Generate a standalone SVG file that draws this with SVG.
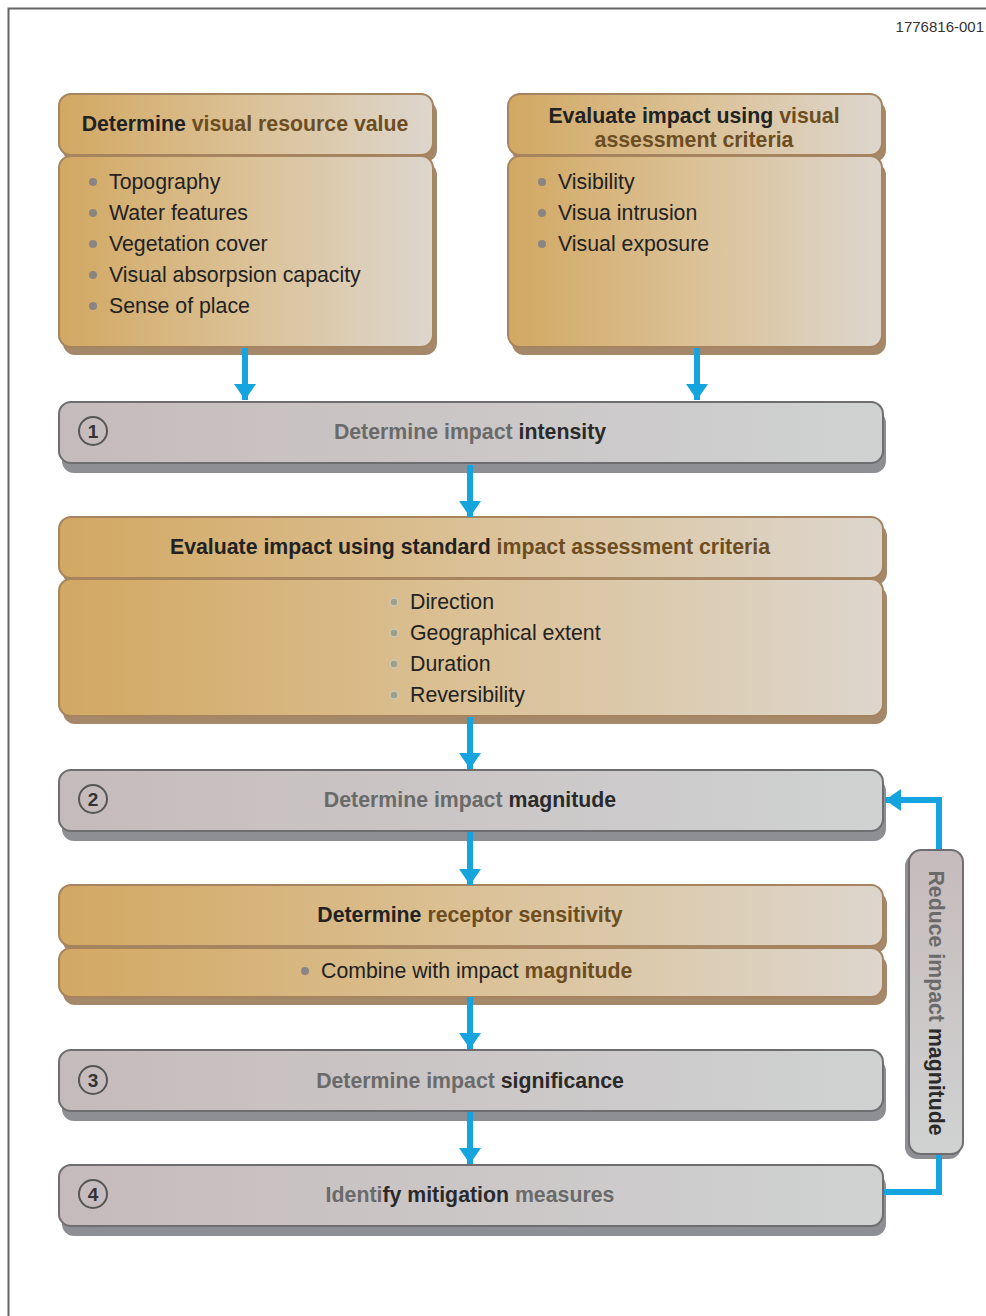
<svg xmlns="http://www.w3.org/2000/svg" width="986" height="1316" viewBox="0 0 986 1316">
<defs>
<linearGradient id="tan" x1="0" y1="0" x2="1" y2="0">
<stop offset="0" stop-color="#d2a862"/>
<stop offset="0.5" stop-color="#dbc196"/>
<stop offset="1" stop-color="#ddd6cd"/>
</linearGradient>
<linearGradient id="grey" x1="0" y1="0" x2="1" y2="0">
<stop offset="0" stop-color="#c6bbbc"/>
<stop offset="1" stop-color="#d0d2d2"/>
</linearGradient>
<linearGradient id="greyv" x1="0" y1="0" x2="0" y2="1">
<stop offset="0" stop-color="#c6bbbc"/>
<stop offset="1" stop-color="#d0d2d2"/>
</linearGradient>
<marker id="ah" viewBox="0 0 16 22" refX="16" refY="11" markerWidth="16" markerHeight="22" markerUnits="userSpaceOnUse" orient="auto">
<path d="M0,0 L16,11 L0,22 Z" fill="#16a4de"/>
</marker>
</defs>
<style>
.tb{fill:url(#tan);stroke:#a5845f;stroke-width:2}
.ts{fill:#a5876a}
.gb{fill:url(#grey);stroke:#6e6e70;stroke-width:2}
.gs{fill:#8e8f94}
.t{font-family:"Liberation Sans",Arial,sans-serif}
.h{font-size:21.3px;font-weight:bold;fill:#222}
.br{fill:#6c4d22}
.b{font-size:21.3px;fill:#222}
.bar{font-size:21.3px;font-weight:bold;fill:#6a6a6a}
.dk{fill:#2a2a2a}
.dot{fill:#8a8580}
.odot{fill:#9e9f88;stroke:#cdc8b8;stroke-width:1.5}
.num{fill:none;stroke:#555;stroke-width:2}
.numt{font-size:19px;font-weight:bold;fill:#333}
.conn{stroke:#16a4de;stroke-width:6;fill:none}
</style>
<rect width="986" height="1316" fill="#ffffff"/>
<path d="M8.5,1316 V8.5 H986" fill="none" stroke="#666" stroke-width="2"/>
<text class="t" x="984" y="32" font-size="15" fill="#333" text-anchor="end">1776816-001</text>

<g id="box-visual-resource">
<rect class="ts" x="63" y="101" width="374" height="61" rx="12"/>
<rect class="tb" x="59" y="94" width="374" height="61" rx="12"/>
<rect class="ts" x="63" y="163" width="374" height="192" rx="12"/>
<rect class="tb" x="59" y="156" width="374" height="191" rx="12"/>
<text class="t h" x="245" y="131" text-anchor="middle">Determine <tspan class="br">visual resource value</tspan></text>
<circle class="dot" cx="93" cy="182" r="4"/>
<circle class="dot" cx="93" cy="213" r="4"/>
<circle class="dot" cx="93" cy="244" r="4"/>
<circle class="dot" cx="93" cy="275" r="4"/>
<circle class="dot" cx="93" cy="306" r="4"/>
<text class="t b" x="109" y="189">Topography</text>
<text class="t b" x="109" y="220">Water features</text>
<text class="t b" x="109" y="251">Vegetation cover</text>
<text class="t b" x="109" y="282">Visual absorpsion capacity</text>
<text class="t b" x="109" y="313">Sense of place</text>
</g>

<g id="box-visual-criteria">
<rect class="ts" x="512" y="101" width="374" height="61" rx="12"/>
<rect class="tb" x="508" y="94" width="374" height="61" rx="12"/>
<rect class="ts" x="512" y="163" width="374" height="192" rx="12"/>
<rect class="tb" x="508" y="156" width="374" height="191" rx="12"/>
<text class="t h" x="694" y="123" text-anchor="middle">Evaluate impact using <tspan class="br">visual</tspan></text>
<text class="t h br" x="694" y="147" text-anchor="middle">assessment criteria</text>
<circle class="dot" cx="542" cy="182" r="4"/>
<circle class="dot" cx="542" cy="213" r="4"/>
<circle class="dot" cx="542" cy="244" r="4"/>
<text class="t b" x="558" y="189">Visibility</text>
<text class="t b" x="558" y="220">Visua intrusion</text>
<text class="t b" x="558" y="251">Visual exposure</text>
</g>

<g id="step-1">
<rect class="gs" x="62" y="411" width="824" height="62" rx="12"/>
<rect class="gb" x="59" y="402" width="824" height="61" rx="12"/>
<circle class="num" cx="93" cy="431" r="14"/>
<text class="t numt" x="93" y="438" text-anchor="middle">1</text>
<text class="t bar" x="470" y="439" text-anchor="middle">Determine impact <tspan class="dk">intensity</tspan></text>
</g>

<g id="box-standard-criteria">
<rect class="ts" x="63" y="524" width="824" height="61" rx="12"/>
<rect class="tb" x="59" y="517" width="824" height="61" rx="12"/>
<rect class="ts" x="63" y="586" width="824" height="138" rx="12"/>
<rect class="tb" x="59" y="579" width="824" height="137" rx="12"/>
<text class="t h" x="470" y="554" text-anchor="middle">Evaluate impact using standard <tspan class="br">impact assessment criteria</tspan></text>
<circle class="odot" cx="394" cy="602" r="4"/>
<circle class="odot" cx="394" cy="633" r="4"/>
<circle class="odot" cx="394" cy="664" r="4"/>
<circle class="odot" cx="394" cy="695" r="4"/>
<text class="t b" x="410" y="609">Direction</text>
<text class="t b" x="410" y="640">Geographical extent</text>
<text class="t b" x="410" y="671">Duration</text>
<text class="t b" x="410" y="702">Reversibility</text>
</g>

<g id="step-2">
<rect class="gs" x="62" y="779" width="824" height="62" rx="12"/>
<rect class="gb" x="59" y="770" width="824" height="61" rx="12"/>
<circle class="num" cx="93" cy="799" r="14"/>
<text class="t numt" x="93" y="806" text-anchor="middle">2</text>
<text class="t bar" x="470" y="807" text-anchor="middle">Determine impact <tspan class="dk">magnitude</tspan></text>
</g>

<g id="box-receptor">
<rect class="ts" x="63" y="892" width="824" height="61" rx="12"/>
<rect class="tb" x="59" y="885" width="824" height="61" rx="12"/>
<rect class="ts" x="63" y="955" width="824" height="50" rx="12"/>
<rect class="tb" x="59" y="948" width="824" height="49" rx="12"/>
<text class="t h" x="470" y="922" text-anchor="middle">Determine <tspan class="br">receptor sensitivity</tspan></text>
<circle class="dot" cx="305" cy="971" r="4"/>
<text class="t b" x="321" y="978">Combine with impact <tspan font-weight="bold" class="br">magnitude</tspan></text>
</g>

<g id="step-3">
<rect class="gs" x="62" y="1059" width="824" height="62" rx="12"/>
<rect class="gb" x="59" y="1050" width="824" height="61" rx="12"/>
<circle class="num" cx="93" cy="1080" r="14"/>
<text class="t numt" x="93" y="1087" text-anchor="middle">3</text>
<text class="t bar" x="470" y="1088" text-anchor="middle">Determine impact <tspan class="dk">significance</tspan></text>
</g>

<g id="step-4">
<rect class="gs" x="62" y="1174" width="824" height="62" rx="12"/>
<rect class="gb" x="59" y="1165" width="824" height="61" rx="12"/>
<circle class="num" cx="93" cy="1194" r="14"/>
<text class="t numt" x="93" y="1201" text-anchor="middle">4</text>
<text class="t bar" x="470" y="1202" text-anchor="middle">Identi<tspan class="dk">fy mitigation</tspan> measures</text>
</g>

<g id="reduce-magnitude">
<rect class="gs" x="905" y="854" width="56" height="305" rx="12"/>
<rect x="909" y="850" width="54" height="304" rx="12" fill="url(#greyv)" stroke="#6e6e70" stroke-width="2"/>
<text class="t bar" x="0" y="0" text-anchor="middle" transform="translate(929,1003) rotate(90)">Reduce impact <tspan class="dk">magnitude</tspan></text>
</g>

<g id="connectors">
<line class="conn" x1="245" y1="348" x2="245" y2="400" marker-end="url(#ah)"/>
<line class="conn" x1="697" y1="348" x2="697" y2="400" marker-end="url(#ah)"/>
<line class="conn" x1="470" y1="465" x2="470" y2="517" marker-end="url(#ah)"/>
<line class="conn" x1="470" y1="717" x2="470" y2="769" marker-end="url(#ah)"/>
<line class="conn" x1="470" y1="832" x2="470" y2="885" marker-end="url(#ah)"/>
<line class="conn" x1="470" y1="997" x2="470" y2="1049" marker-end="url(#ah)"/>
<line class="conn" x1="470" y1="1112" x2="470" y2="1164" marker-end="url(#ah)"/>
<polyline class="conn" points="884,1192 939,1192 939,1155"/>
<polyline class="conn" points="939,849 939,800 885,800" marker-end="url(#ah)"/>
</g>
</svg>
